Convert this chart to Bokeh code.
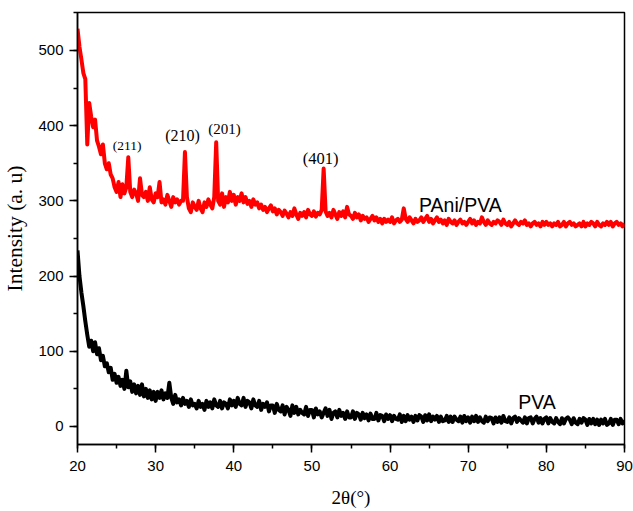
from bokeh.plotting import figure
from bokeh.models import SingleIntervalTicker, Label
from bokeh.embed import file_html
from bokeh.resources import INLINE

# 2-theta sampling grid: 20.00 .. 90.00 in 0.25 degree steps
two_theta_start = 20.0
two_theta_step = 0.25

pani_pva = [
    529, 505, 488, 470,  462, 375, 430, 412,  398, 408, 380, 372,  362, 375, 350, 342,
    350, 335, 330, 318,  312, 325, 305, 322,  310, 318, 358, 312,  305, 315, 310, 300,
    330, 308, 305, 312,  300, 318, 302, 298,  310, 305, 325, 298,  302, 295, 308, 300,
    292, 305, 298, 302,  295, 300, 300, 365,  305, 290, 285, 298,  292, 288, 300, 290,
    285, 298, 292, 302,  295, 290, 305, 378,  300, 295, 310, 292,  305, 298, 312, 300,
    308, 295, 305, 300,  310, 298, 305, 296,  300, 292, 302, 295,  298, 290, 295, 288,
    292, 285, 290, 294,  286, 290, 282, 288,  285, 280, 287, 283,  278, 285, 280, 290,
    282, 276, 284, 280,  285, 278, 288, 282,  280, 286, 279, 284,  282, 288, 343, 286,
    280, 284, 278, 288,  282, 276, 285, 280,  286, 278, 292, 282,  280, 276, 284, 278,
    282, 274, 280, 276,  278, 272, 276, 280,  274, 278, 272, 276,  270, 276, 272, 275,
    272, 278, 270, 274,  276, 272, 275, 290,  276, 272, 278, 274,  270, 276, 272, 274,
    278, 272, 276, 280,  272, 276, 270, 274,  278, 272, 275, 270,  274, 268, 276, 272,
    270, 274, 268, 272,  275, 270, 272, 268,  272, 276, 270, 274,  268, 272, 270, 278,
    272, 268, 274, 270,  268, 272, 270, 274,  272, 268, 275, 270,  268, 272, 266, 270,
    274, 270, 268, 272,  270, 274, 268, 270,  266, 270, 272, 268,  270, 266, 272, 268,
    272, 268, 270, 266,  270, 268, 272, 266,  268, 272, 266, 270,  272, 268, 270, 266,
    268, 270, 266, 272,  266, 270, 268, 272,  270, 266, 272, 268,  266, 270, 268, 272,
    268, 272, 266, 270,  272, 268, 270, 266,  270,
]

pva = [
    234, 200, 178, 160,  140, 122, 106, 114,  100, 112, 96, 104,  88, 94, 80, 84,
    72, 78, 62, 70,  58, 66, 54, 62,  50, 74, 52, 60,  46, 56, 44, 54,
    42, 56, 40, 50,  38, 48, 36, 46,  34, 46, 38, 48,  36, 44, 38, 58,
    38, 30, 42, 32,  36, 28, 38, 30,  34, 26, 36, 28,  30, 24, 34, 26,
    30, 22, 34, 26,  32, 24, 36, 28,  26, 34, 24, 32,  30, 24, 36, 28,
    34, 26, 38, 30,  28, 38, 26, 34,  32, 24, 36, 28,  26, 34, 22, 30,
    26, 32, 20, 28,  28, 18, 30, 22,  20, 28, 16, 26,  22, 14, 28, 18,
    26, 16, 22, 18,  16, 26, 14, 22,  22, 12, 24, 16,  20, 12, 18, 24,
    14, 22, 10, 18,  20, 12, 22, 14,  18, 10, 20, 12,  12, 20, 10, 18,
    16, 9, 18, 11,  16, 8, 17, 10,  10, 18, 8, 15,  14, 7, 16, 10,
    15, 7, 14, 10,  9, 16, 6, 14,  7, 15, 9, 13,  6, 14, 8, 15,
    13, 6, 15, 8,  16, 7, 13, 9,  14, 6, 13, 7,  8, 14, 6, 13,
    6, 13, 9, 7,  13, 5, 14, 7,  12, 5, 13, 7,  14, 6, 12, 7,
    5, 13, 7, 12,  11, 4, 12, 6,  12, 5, 14, 7,  6, 12, 4, 11,
    13, 6, 11, 8,  5, 12, 4, 11,  12, 4, 10, 13,  5, 11, 4, 10,
    12, 4, 11, 6,  4, 11, 6, 3,  11, 4, 10, 12,  9, 3, 11, 5,
    3, 10, 5, 11,  9, 2, 10, 4,  10, 3, 9, 2,  9, 4, 10, 2,
    4, 10, 2, 9,  9, 3, 10, 4,  8,
]

two_theta = [two_theta_start + i * two_theta_step for i in range(len(pani_pva))]

peak_labels = ["(211)", "(210)", "(201)", "(401)"]
peak_label_x = [26.35, 33.45, 38.8, 51.1]
peak_label_y = [374, 387, 396, 357]
peak_label_size = ["13.5px", "16px", "15px", "16.5px"]

series_names = ["PAni/PVA", "PVA"]
series_name_x = [63.7, 76.4]
series_name_y = [295, 32]

SERIF = "Liberation Serif"
SANS = "Liberation Sans"

p = figure(width=633, height=511, x_range=(20, 90), y_range=(-24, 550.5),
           output_backend="svg", toolbar_location=None,
           min_border_left=77, min_border_top=12, min_border_right=9, min_border_bottom=67)
p.background_fill_color = "white"
p.border_fill_color = "white"
p.outline_line_color = "black"
p.outline_line_width = 1.5
p.xgrid.visible = False
p.ygrid.visible = False

p.line(two_theta, pani_pva, line_color="#ff0000", line_width=4, line_join="round")
p.line(two_theta, pva, line_color="black", line_width=4, line_join="round")

p.xaxis.ticker = SingleIntervalTicker(interval=10, num_minor_ticks=2)
p.yaxis.ticker = SingleIntervalTicker(interval=100, num_minor_ticks=2)

for ax in (p.xaxis[0], p.yaxis[0]):
    ax.axis_line_color = "black"
    ax.axis_line_width = 1.5
    ax.major_tick_line_color = "black"
    ax.major_tick_line_width = 1.5
    ax.minor_tick_line_color = "black"
    ax.minor_tick_line_width = 1.5
    ax.major_tick_in = 0
    ax.major_tick_out = 8
    ax.minor_tick_in = 0
    ax.minor_tick_out = 4
    ax.major_label_text_font = SANS
    ax.major_label_text_font_size = "15px"
    ax.major_label_text_color = "black"
    ax.axis_label_text_font = SERIF
    ax.axis_label_text_font_style = "normal"
    ax.axis_label_text_color = "black"

p.xaxis.axis_label_text_font_size = "19px"
p.yaxis.axis_label_text_font_size = "21.5px"
p.xaxis.major_label_standoff = 8
p.yaxis.major_label_standoff = 6
p.xaxis.axis_label = "2θ(°)"
p.yaxis.axis_label = "Intensity (a. u)"
p.xaxis.axis_label_standoff = 13
p.yaxis.axis_label_standoff = 8

for t, x, y, s in zip(peak_labels, peak_label_x, peak_label_y, peak_label_size):
    p.add_layout(Label(x=x, y=y, text=t, text_font=SERIF, text_font_size=s,
                       text_align="center", text_baseline="middle", text_color="black"))

for t, x, y in zip(series_names, series_name_x, series_name_y):
    p.add_layout(Label(x=x, y=y, text=t, text_font=SANS, text_font_size="19.5px",
                       text_align="left", text_baseline="middle", text_color="black"))

open("out.html", "w").write(file_html(p, INLINE))
